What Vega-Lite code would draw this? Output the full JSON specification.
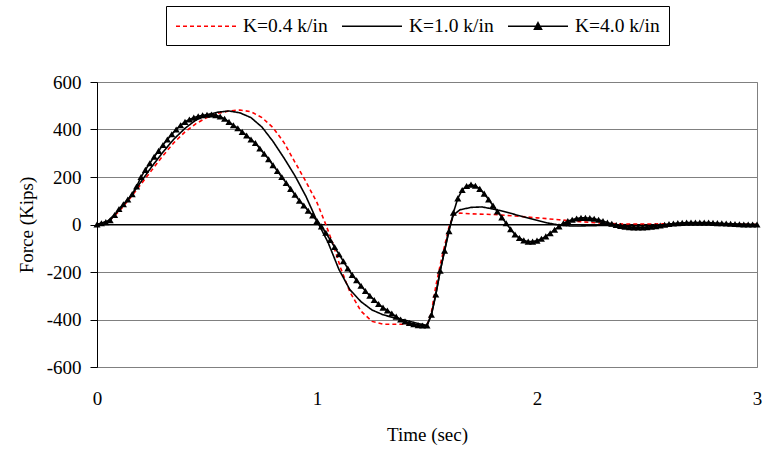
{
  "$schema": "https://vega.github.io/schema/vega-lite/v6.json",
  "autosize": {"type": "none"},
  "padding": {"left": 97, "top": 82, "right": 6, "bottom": 86},
  "width": 660,
  "height": 285,
  "background": "white",
  "config": {
    "font": "Liberation Serif",
    "view": {"stroke": "#808080", "strokeWidth": 1},
    "axis": {"labelFont": "Liberation Serif", "titleFont": "Liberation Serif", "labelFontSize": 19, "titleFontSize": 19, "titleFontWeight": "normal", "labelColor": "black", "titleColor": "black"},
    "legend": {"labelFont": "Liberation Serif", "labelFontSize": 19.5, "labelColor": "black"}
  },
  "data": {"values": [
    {"K":"K=0.4 k/in","t":0,"F":0},{"K":"K=0.4 k/in","t":0.05,"F":12},{"K":"K=0.4 k/in","t":0.1,"F":55},{"K":"K=0.4 k/in","t":0.15,"F":110},{"K":"K=0.4 k/in","t":0.2,"F":170},{"K":"K=0.4 k/in","t":0.25,"F":230},{"K":"K=0.4 k/in","t":0.3,"F":290},{"K":"K=0.4 k/in","t":0.35,"F":345},{"K":"K=0.4 k/in","t":0.4,"F":390},{"K":"K=0.4 k/in","t":0.45,"F":425},{"K":"K=0.4 k/in","t":0.5,"F":450},{"K":"K=0.4 k/in","t":0.55,"F":468},{"K":"K=0.4 k/in","t":0.6,"F":478},{"K":"K=0.4 k/in","t":0.65,"F":482},{"K":"K=0.4 k/in","t":0.7,"F":475},{"K":"K=0.4 k/in","t":0.75,"F":450},{"K":"K=0.4 k/in","t":0.8,"F":408},{"K":"K=0.4 k/in","t":0.85,"F":345},{"K":"K=0.4 k/in","t":0.9,"F":262},{"K":"K=0.4 k/in","t":0.95,"F":180},{"K":"K=0.4 k/in","t":1.0,"F":92},{"K":"K=0.4 k/in","t":1.04,"F":0},{"K":"K=0.4 k/in","t":1.07,"F":-75},{"K":"K=0.4 k/in","t":1.11,"F":-190},{"K":"K=0.4 k/in","t":1.15,"F":-285},{"K":"K=0.4 k/in","t":1.2,"F":-365},{"K":"K=0.4 k/in","t":1.25,"F":-408},{"K":"K=0.4 k/in","t":1.3,"F":-420},{"K":"K=0.4 k/in","t":1.35,"F":-420},{"K":"K=0.4 k/in","t":1.4,"F":-420},{"K":"K=0.4 k/in","t":1.45,"F":-422},{"K":"K=0.4 k/in","t":1.5,"F":-425},{"K":"K=0.4 k/in","t":1.52,"F":-370},{"K":"K=0.4 k/in","t":1.54,"F":-260},{"K":"K=0.4 k/in","t":1.56,"F":-170},{"K":"K=0.4 k/in","t":1.58,"F":-90},{"K":"K=0.4 k/in","t":1.6,"F":-10},{"K":"K=0.4 k/in","t":1.62,"F":40},{"K":"K=0.4 k/in","t":1.65,"F":48},{"K":"K=0.4 k/in","t":1.7,"F":45},{"K":"K=0.4 k/in","t":1.8,"F":42},{"K":"K=0.4 k/in","t":1.9,"F":36},{"K":"K=0.4 k/in","t":2.0,"F":28},{"K":"K=0.4 k/in","t":2.1,"F":20},{"K":"K=0.4 k/in","t":2.2,"F":12},{"K":"K=0.4 k/in","t":2.3,"F":5},{"K":"K=0.4 k/in","t":2.4,"F":2},{"K":"K=0.4 k/in","t":2.5,"F":2},{"K":"K=0.4 k/in","t":2.6,"F":3},{"K":"K=0.4 k/in","t":2.7,"F":3},{"K":"K=0.4 k/in","t":2.8,"F":3},{"K":"K=0.4 k/in","t":2.9,"F":2},{"K":"K=0.4 k/in","t":3.0,"F":0},
    {"K":"K=1.0 k/in","t":0,"F":0},{"K":"K=1.0 k/in","t":0.05,"F":15},{"K":"K=1.0 k/in","t":0.1,"F":60},{"K":"K=1.0 k/in","t":0.15,"F":115},{"K":"K=1.0 k/in","t":0.2,"F":180},{"K":"K=1.0 k/in","t":0.25,"F":245},{"K":"K=1.0 k/in","t":0.3,"F":305},{"K":"K=1.0 k/in","t":0.35,"F":360},{"K":"K=1.0 k/in","t":0.4,"F":405},{"K":"K=1.0 k/in","t":0.45,"F":440},{"K":"K=1.0 k/in","t":0.5,"F":462},{"K":"K=1.0 k/in","t":0.55,"F":473},{"K":"K=1.0 k/in","t":0.6,"F":478},{"K":"K=1.0 k/in","t":0.65,"F":470},{"K":"K=1.0 k/in","t":0.7,"F":450},{"K":"K=1.0 k/in","t":0.75,"F":410},{"K":"K=1.0 k/in","t":0.8,"F":350},{"K":"K=1.0 k/in","t":0.85,"F":280},{"K":"K=1.0 k/in","t":0.9,"F":205},{"K":"K=1.0 k/in","t":0.95,"F":118},{"K":"K=1.0 k/in","t":1.0,"F":15},{"K":"K=1.0 k/in","t":1.05,"F":-75},{"K":"K=1.0 k/in","t":1.1,"F":-190},{"K":"K=1.0 k/in","t":1.15,"F":-275},{"K":"K=1.0 k/in","t":1.2,"F":-325},{"K":"K=1.0 k/in","t":1.25,"F":-360},{"K":"K=1.0 k/in","t":1.3,"F":-380},{"K":"K=1.0 k/in","t":1.35,"F":-393},{"K":"K=1.0 k/in","t":1.4,"F":-403},{"K":"K=1.0 k/in","t":1.45,"F":-415},{"K":"K=1.0 k/in","t":1.5,"F":-425},{"K":"K=1.0 k/in","t":1.52,"F":-380},{"K":"K=1.0 k/in","t":1.54,"F":-295},{"K":"K=1.0 k/in","t":1.56,"F":-195},{"K":"K=1.0 k/in","t":1.58,"F":-110},{"K":"K=1.0 k/in","t":1.6,"F":-20},{"K":"K=1.0 k/in","t":1.62,"F":40},{"K":"K=1.0 k/in","t":1.65,"F":62},{"K":"K=1.0 k/in","t":1.7,"F":72},{"K":"K=1.0 k/in","t":1.75,"F":74},{"K":"K=1.0 k/in","t":1.8,"F":65},{"K":"K=1.0 k/in","t":1.85,"F":55},{"K":"K=1.0 k/in","t":1.9,"F":42},{"K":"K=1.0 k/in","t":1.95,"F":30},{"K":"K=1.0 k/in","t":2.0,"F":18},{"K":"K=1.0 k/in","t":2.05,"F":6},{"K":"K=1.0 k/in","t":2.1,"F":-2},{"K":"K=1.0 k/in","t":2.15,"F":-6},{"K":"K=1.0 k/in","t":2.2,"F":-6},{"K":"K=1.0 k/in","t":2.3,"F":-4},{"K":"K=1.0 k/in","t":2.4,"F":-6},{"K":"K=1.0 k/in","t":2.5,"F":-5},{"K":"K=1.0 k/in","t":2.6,"F":0},{"K":"K=1.0 k/in","t":2.7,"F":3},{"K":"K=1.0 k/in","t":2.8,"F":3},{"K":"K=1.0 k/in","t":2.9,"F":1},{"K":"K=1.0 k/in","t":3.0,"F":0},
    {"K":"K=4.0 k/in","t":0,"F":0},{"K":"K=4.0 k/in","t":0.02,"F":5},{"K":"K=4.0 k/in","t":0.04,"F":10},{"K":"K=4.0 k/in","t":0.06,"F":18},{"K":"K=4.0 k/in","t":0.08,"F":40},{"K":"K=4.0 k/in","t":0.1,"F":65},{"K":"K=4.0 k/in","t":0.12,"F":85},{"K":"K=4.0 k/in","t":0.14,"F":105},{"K":"K=4.0 k/in","t":0.16,"F":128},{"K":"K=4.0 k/in","t":0.18,"F":160},{"K":"K=4.0 k/in","t":0.2,"F":200},{"K":"K=4.0 k/in","t":0.22,"F":230},{"K":"K=4.0 k/in","t":0.24,"F":258},{"K":"K=4.0 k/in","t":0.26,"F":285},{"K":"K=4.0 k/in","t":0.28,"F":310},{"K":"K=4.0 k/in","t":0.3,"F":335},{"K":"K=4.0 k/in","t":0.32,"F":358},{"K":"K=4.0 k/in","t":0.34,"F":380},{"K":"K=4.0 k/in","t":0.36,"F":400},{"K":"K=4.0 k/in","t":0.38,"F":418},{"K":"K=4.0 k/in","t":0.4,"F":432},{"K":"K=4.0 k/in","t":0.42,"F":442},{"K":"K=4.0 k/in","t":0.44,"F":450},{"K":"K=4.0 k/in","t":0.46,"F":456},{"K":"K=4.0 k/in","t":0.48,"F":460},{"K":"K=4.0 k/in","t":0.5,"F":462},{"K":"K=4.0 k/in","t":0.52,"F":463},{"K":"K=4.0 k/in","t":0.54,"F":460},{"K":"K=4.0 k/in","t":0.56,"F":455},{"K":"K=4.0 k/in","t":0.58,"F":445},{"K":"K=4.0 k/in","t":0.6,"F":432},{"K":"K=4.0 k/in","t":0.62,"F":418},{"K":"K=4.0 k/in","t":0.64,"F":405},{"K":"K=4.0 k/in","t":0.66,"F":390},{"K":"K=4.0 k/in","t":0.68,"F":375},{"K":"K=4.0 k/in","t":0.7,"F":358},{"K":"K=4.0 k/in","t":0.72,"F":343},{"K":"K=4.0 k/in","t":0.74,"F":320},{"K":"K=4.0 k/in","t":0.76,"F":298},{"K":"K=4.0 k/in","t":0.78,"F":275},{"K":"K=4.0 k/in","t":0.8,"F":250},{"K":"K=4.0 k/in","t":0.82,"F":225},{"K":"K=4.0 k/in","t":0.84,"F":200},{"K":"K=4.0 k/in","t":0.86,"F":175},{"K":"K=4.0 k/in","t":0.88,"F":150},{"K":"K=4.0 k/in","t":0.9,"F":125},{"K":"K=4.0 k/in","t":0.92,"F":100},{"K":"K=4.0 k/in","t":0.94,"F":80},{"K":"K=4.0 k/in","t":0.96,"F":58},{"K":"K=4.0 k/in","t":0.98,"F":38},{"K":"K=4.0 k/in","t":1.0,"F":15},{"K":"K=4.0 k/in","t":1.02,"F":-8},{"K":"K=4.0 k/in","t":1.04,"F":-35},{"K":"K=4.0 k/in","t":1.06,"F":-65},{"K":"K=4.0 k/in","t":1.08,"F":-95},{"K":"K=4.0 k/in","t":1.1,"F":-125},{"K":"K=4.0 k/in","t":1.12,"F":-155},{"K":"K=4.0 k/in","t":1.14,"F":-185},{"K":"K=4.0 k/in","t":1.16,"F":-212},{"K":"K=4.0 k/in","t":1.18,"F":-235},{"K":"K=4.0 k/in","t":1.2,"F":-258},{"K":"K=4.0 k/in","t":1.22,"F":-280},{"K":"K=4.0 k/in","t":1.24,"F":-300},{"K":"K=4.0 k/in","t":1.26,"F":-318},{"K":"K=4.0 k/in","t":1.28,"F":-335},{"K":"K=4.0 k/in","t":1.3,"F":-350},{"K":"K=4.0 k/in","t":1.32,"F":-362},{"K":"K=4.0 k/in","t":1.34,"F":-375},{"K":"K=4.0 k/in","t":1.36,"F":-388},{"K":"K=4.0 k/in","t":1.38,"F":-400},{"K":"K=4.0 k/in","t":1.4,"F":-408},{"K":"K=4.0 k/in","t":1.42,"F":-415},{"K":"K=4.0 k/in","t":1.44,"F":-420},{"K":"K=4.0 k/in","t":1.46,"F":-424},{"K":"K=4.0 k/in","t":1.48,"F":-425},{"K":"K=4.0 k/in","t":1.5,"F":-425},{"K":"K=4.0 k/in","t":1.52,"F":-380},{"K":"K=4.0 k/in","t":1.54,"F":-295},{"K":"K=4.0 k/in","t":1.56,"F":-195},{"K":"K=4.0 k/in","t":1.58,"F":-110},{"K":"K=4.0 k/in","t":1.6,"F":-28},{"K":"K=4.0 k/in","t":1.62,"F":50},{"K":"K=4.0 k/in","t":1.64,"F":110},{"K":"K=4.0 k/in","t":1.66,"F":145},{"K":"K=4.0 k/in","t":1.68,"F":162},{"K":"K=4.0 k/in","t":1.7,"F":168},{"K":"K=4.0 k/in","t":1.72,"F":163},{"K":"K=4.0 k/in","t":1.74,"F":150},{"K":"K=4.0 k/in","t":1.76,"F":130},{"K":"K=4.0 k/in","t":1.78,"F":105},{"K":"K=4.0 k/in","t":1.8,"F":80},{"K":"K=4.0 k/in","t":1.82,"F":55},{"K":"K=4.0 k/in","t":1.84,"F":30},{"K":"K=4.0 k/in","t":1.86,"F":5},{"K":"K=4.0 k/in","t":1.88,"F":-20},{"K":"K=4.0 k/in","t":1.9,"F":-42},{"K":"K=4.0 k/in","t":1.92,"F":-57},{"K":"K=4.0 k/in","t":1.94,"F":-67},{"K":"K=4.0 k/in","t":1.96,"F":-72},{"K":"K=4.0 k/in","t":1.98,"F":-72},{"K":"K=4.0 k/in","t":2.0,"F":-68},{"K":"K=4.0 k/in","t":2.02,"F":-60},{"K":"K=4.0 k/in","t":2.04,"F":-50},{"K":"K=4.0 k/in","t":2.06,"F":-37},{"K":"K=4.0 k/in","t":2.08,"F":-22},{"K":"K=4.0 k/in","t":2.1,"F":-8},{"K":"K=4.0 k/in","t":2.12,"F":5},{"K":"K=4.0 k/in","t":2.14,"F":14},{"K":"K=4.0 k/in","t":2.16,"F":20},{"K":"K=4.0 k/in","t":2.18,"F":25},{"K":"K=4.0 k/in","t":2.2,"F":28},{"K":"K=4.0 k/in","t":2.22,"F":28},{"K":"K=4.0 k/in","t":2.24,"F":27},{"K":"K=4.0 k/in","t":2.26,"F":24},{"K":"K=4.0 k/in","t":2.28,"F":20},{"K":"K=4.0 k/in","t":2.3,"F":14},{"K":"K=4.0 k/in","t":2.32,"F":8},{"K":"K=4.0 k/in","t":2.34,"F":3},{"K":"K=4.0 k/in","t":2.36,"F":-2},{"K":"K=4.0 k/in","t":2.38,"F":-6},{"K":"K=4.0 k/in","t":2.4,"F":-9},{"K":"K=4.0 k/in","t":2.42,"F":-11},{"K":"K=4.0 k/in","t":2.44,"F":-12},{"K":"K=4.0 k/in","t":2.46,"F":-12},{"K":"K=4.0 k/in","t":2.48,"F":-12},{"K":"K=4.0 k/in","t":2.5,"F":-11},{"K":"K=4.0 k/in","t":2.52,"F":-9},{"K":"K=4.0 k/in","t":2.54,"F":-7},{"K":"K=4.0 k/in","t":2.56,"F":-4},{"K":"K=4.0 k/in","t":2.58,"F":-1},{"K":"K=4.0 k/in","t":2.6,"F":2},{"K":"K=4.0 k/in","t":2.62,"F":4},{"K":"K=4.0 k/in","t":2.64,"F":6},{"K":"K=4.0 k/in","t":2.66,"F":7},{"K":"K=4.0 k/in","t":2.68,"F":8},{"K":"K=4.0 k/in","t":2.7,"F":8},{"K":"K=4.0 k/in","t":2.72,"F":8},{"K":"K=4.0 k/in","t":2.74,"F":8},{"K":"K=4.0 k/in","t":2.76,"F":8},{"K":"K=4.0 k/in","t":2.78,"F":8},{"K":"K=4.0 k/in","t":2.8,"F":7},{"K":"K=4.0 k/in","t":2.82,"F":6},{"K":"K=4.0 k/in","t":2.84,"F":5},{"K":"K=4.0 k/in","t":2.86,"F":4},{"K":"K=4.0 k/in","t":2.88,"F":3},{"K":"K=4.0 k/in","t":2.9,"F":2},{"K":"K=4.0 k/in","t":2.92,"F":1},{"K":"K=4.0 k/in","t":2.94,"F":0},{"K":"K=4.0 k/in","t":2.96,"F":0},{"K":"K=4.0 k/in","t":2.98,"F":0},{"K":"K=4.0 k/in","t":3.0,"F":0}
  ]},
  "layer": [
    {
      "mark": {"type": "rule", "color": "black", "strokeWidth": 1},
      "encoding": {"y": {"datum": 0, "type": "quantitative", "scale": {"domain": [-600, 600]}}}
    },
    {
      "mark": {"type": "line", "strokeWidth": 1.6},
      "encoding": {
        "x": {"field": "t", "type": "quantitative", "scale": {"domain": [0, 3], "nice": false},
          "axis": {"title": "Time (sec)", "values": [0, 1, 2, 3], "format": "d", "domain": false, "ticks": false, "grid": false, "labelPadding": 22, "titlePadding": 17, "labelFlush": false}},
        "y": {"field": "F", "type": "quantitative", "scale": {"domain": [-600, 600], "nice": false},
          "axis": {"title": "Force (Kips)", "values": [-600, -400, -200, 0, 200, 400, 600], "labelExpr": "'' + datum.value", "domain": true, "domainColor": "black", "tickColor": "black", "tickSize": 7, "labelPadding": 9, "titlePadding": 10, "grid": true, "gridColor": "#808080", "labelFlush": false}},
        "color": {"field": "K", "type": "nominal", "scale": {"domain": ["K=0.4 k/in", "K=1.0 k/in", "K=4.0 k/in"], "range": ["#ff0000", "#000000", "#000000"]},
          "legend": {"title": null, "orient": "none", "legendX": 69, "legendY": -76, "direction": "horizontal", "columns": 3, "symbolType": "M-3,0H3", "symbolSize": 400, "symbolOffset": 20, "symbolStrokeWidth": 1.6, "labelOffset": 26, "columnPadding": 10, "padding": 9, "strokeColor": "black", "fillColor": "white",
            "encode": {"symbols": {"update": {"shape": [{"test": "datum.value === 'K=4.0 k/in'", "value": "M-3,0H3M-0.35,0.3L0,-0.35L0.35,0.3Z"}, {"value": "M-3,0H3"}], "fill": {"value": "black"}}}}}},
        "strokeDash": {"field": "K", "type": "nominal", "scale": {"domain": ["K=0.4 k/in", "K=1.0 k/in", "K=4.0 k/in"], "range": [[4, 3], [1, 0], [1, 0]]}, "legend": null}
      }
    },
    {
      "transform": [{"filter": "datum.K === 'K=4.0 k/in'"}],
      "mark": {"type": "point", "shape": "triangle-up", "filled": true, "color": "black", "size": 50, "opacity": 1},
      "encoding": {
        "x": {"field": "t", "type": "quantitative"},
        "y": {"field": "F", "type": "quantitative"}
      }
    }
  ]
}
